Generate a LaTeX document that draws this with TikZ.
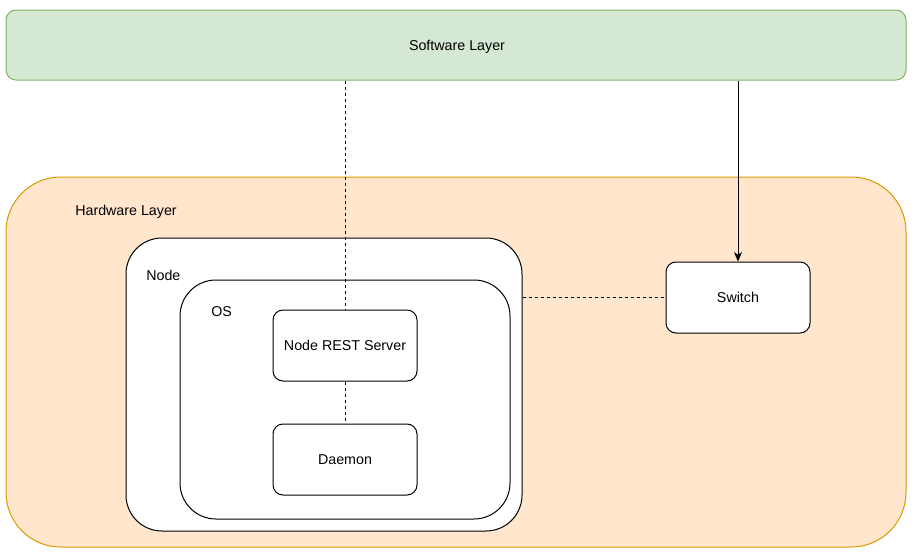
\documentclass[tikz,border=0pt]{standalone}
\usepackage{fontspec}
\setmainfont{Liberation Sans}
\usetikzlibrary{arrows.meta,calc}

\definecolor{swfill}{HTML}{D5E8D4}
\definecolor{swline}{HTML}{82B366}
\definecolor{hwfill}{HTML}{FFE6CC}
\definecolor{hwline}{HTML}{D79B00}

\begin{document}
\begin{tikzpicture}[x=0.75pt,y=-0.75pt,
    every node/.style={font=\fontsize{10.7}{12}\selectfont, inner sep=0pt},
    layer/.style={draw, line width=0.75pt, rounded corners=#1},
    block/.style={draw, fill=white, line width=0.75pt, rounded corners=7.5pt,
      minimum width=108pt, minimum height=53.25pt},
    link/.style={line width=0.75pt, dash pattern=on 2.25pt off 2.25pt}]
    \useasboundingbox (0,0) rectangle (915,553);

    \node[layer=7.5pt, fill=swfill, draw=swline, minimum width=675pt, minimum height=52.5pt] (software) at (456,45) {};
    \node at (457,46.5) {Software Layer};

    \node[layer=41pt, fill=hwfill, draw=hwline, minimum width=675pt, minimum height=277.5pt] (hardware) at (456,362) {};
    \node[anchor=west] at (75,212) {Hardware Layer};

    \node[layer=27pt, fill=white, minimum width=297pt, minimum height=219.75pt] (machine) at (324,384.5) {};
    \node[anchor=west] at (146,275.5) {Node};

    \node[layer=27pt, fill=white, minimum width=247.5pt, minimum height=179.25pt] (os) at (345,399.5) {};
    \node[anchor=west] at (211,311.5) {OS};

    \node[block] (rest) at (345,345.5) {Node REST Server};
    \node[block] (daemon) at (345,459.5) {Daemon};
    \node[block] (switch) at (738,297.5) {Switch};

    \draw[link] (software.south -| rest.north) -- (rest.north);
    \draw[link] (rest.south) -- (daemon.north);
    \draw[link] (switch.west -| machine.east) -- (switch.west);
    \draw[line width=0.75pt, -{Stealth[length=7pt,width=6pt,inset=2pt]}] (software.south -| switch.north) -- (switch.north);
\end{tikzpicture}
\end{document}
